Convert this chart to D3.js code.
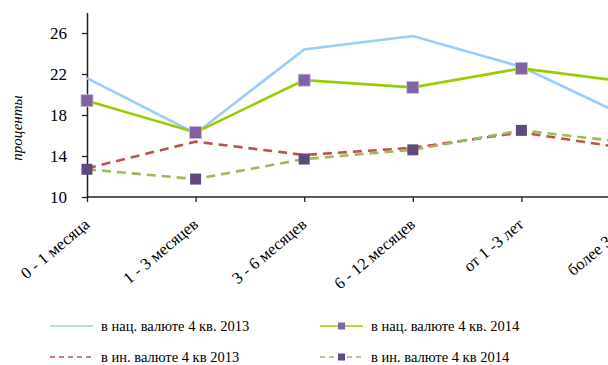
<!DOCTYPE html>
<html>
<head>
<meta charset="utf-8">
<script src="https://cdn.jsdelivr.net/npm/d3@7"></script>
<style>
  body { margin: 0; background: #fff; }
  svg { display: block; overflow: hidden; }
  text { font-family: "Liberation Serif", "Times New Roman", serif; fill: #000; }
</style>
</head>
<body>
<div id="container"></div>
<script>
/* DATA */
const categories = ["0 - 1 месяца", "1 - 3 месяцев", "3 - 6 месяцев", "6 - 12 месяцев", "от 1 -3 лет", "более 3 лет"]
const nat2013 = [21.6, 16.2, 24.4, 25.7, 22.7, 17.7]
const nat2014 = [19.4, 16.3, 21.4, 20.7, 22.55, 21.2]
const for2013 = [12.8, 15.4, 14.1, 14.8, 16.3, 14.7]
const for2014 = [12.7, 11.75, 13.7, 14.6, 16.5, 15.3]
const yTicks = [10, 14, 18, 22, 26]

/* CONSTANTS */
const width = 608, height = 365
const x0 = 87, step = 108.6, yTop = 12.5, yBottom = 197

const series = [
  { name: "в нац. валюте 4 кв. 2013", values: nat2013, color: "#99ccff", dash: null, marker: null },
  { name: "в нац. валюте 4 кв. 2014", values: nat2014, color: "#99cc00", dash: null, marker: "#8064a2" },
  { name: "в ин. валюте 4 кв 2013", values: for2013, color: "#c0504d", dash: "9,6", marker: null },
  { name: "в ин. валюте 4 кв 2014", values: for2014, color: "#9bbb59", dash: "9,6", marker: "#604a7b" }
]

// SCALES
const xScale = d3.scalePoint()
  .domain(categories)
  .range([x0, x0 + step * (categories.length - 1)])

const yScale = d3.scaleLinear()
  .domain([10, 28])
  .range([yBottom, yTop])

const svg = d3.select("#container")
  .append("svg")
  .attr("width", width)
  .attr("height", height)

// AXES
const xAxis = svg.append("g")
  .attr("transform", `translate(0, ${yBottom})`)
  .call(d3.axisBottom(xScale).tickSize(5).tickSizeOuter(0))
xAxis.select(".domain").attr("stroke", "#222").attr("stroke-width", 1.5)
  .attr("d", `M${x0},0H${x0 + step * 6}`)
xAxis.selectAll(".tick line").attr("stroke", "#222").attr("stroke-width", 1.3)
xAxis.selectAll(".tick text")
  .attr("font-size", 16.5)
  .attr("font-family", "Liberation Serif")
  .attr("text-anchor", "end")
  .attr("x", 0)
  .attr("y", 0)
  .attr("dy", 0)
  .attr("transform", "translate(3, 29) rotate(-40)")

const yAxis = svg.append("g")
  .attr("transform", `translate(${x0}, 0)`)
  .call(d3.axisLeft(yScale).tickValues(yTicks).tickSize(5).tickSizeOuter(0).tickPadding(15))
yAxis.select(".domain").attr("stroke", "#222").attr("stroke-width", 1.5)
yAxis.selectAll(".tick line").attr("stroke", "#222").attr("stroke-width", 1.3)
yAxis.selectAll(".tick text")
  .attr("font-size", 17)
  .attr("font-family", "Liberation Serif")

svg.append("text")
  .attr("transform", `translate(22, 128) rotate(-90)`)
  .attr("text-anchor", "middle")
  .attr("font-size", 15)
  .attr("font-style", "italic")
  .text("проценты")

// LINES
const lineGen = d3.line()
  .x((d, i) => xScale(categories[i]))
  .y(d => yScale(d))

// draw order: foreign first, then national
const order = [2, 3, 0, 1]
order.forEach(k => {
  const s = series[k]
  svg.append("path")
    .datum(s.values)
    .attr("fill", "none")
    .attr("stroke", s.color)
    .attr("stroke-width", 2.6)
    .attr("stroke-dasharray", s.dash)
    .attr("d", lineGen)
})

// MARKERS
series.forEach(s => {
  if (!s.marker) return
  const sz = s.marker === "#8064a2" ? 12 : 11
  svg.selectAll(null)
    .data(s.values)
    .join("rect")
    .attr("x", (d, i) => xScale(categories[i]) - sz / 2)
    .attr("y", d => yScale(d) - sz / 2)
    .attr("width", sz)
    .attr("height", sz)
    .attr("fill", s.marker)
    .attr("stroke", s.marker === "#8064a2" ? "#c9b8de" : "none")
    .attr("stroke-width", 0.8)
})

// LEGEND
const legendPos = [
  { x: 50, y: 326 }, { x: 320, y: 326 },
  { x: 50, y: 357 }, { x: 320, y: 357 }
]
series.forEach((s, i) => {
  const p = legendPos[i]
  const g = svg.append("g").attr("transform", `translate(${p.x}, ${p.y})`)
  g.append("line")
    .attr("x1", 0).attr("x2", 43)
    .attr("stroke", s.color)
    .attr("stroke-width", 1.3)
    .attr("stroke-dasharray", s.dash ? "5,4" : null)
  if (s.marker) {
    g.append("rect")
      .attr("x", 18).attr("y", -3.5)
      .attr("width", 7).attr("height", 7)
      .attr("fill", s.marker)
  }
  g.append("text")
    .attr("x", 51)
    .attr("y", 5)
    .attr("font-size", 14.5)
    .text(s.name)
})
</script>
</body>
</html>
